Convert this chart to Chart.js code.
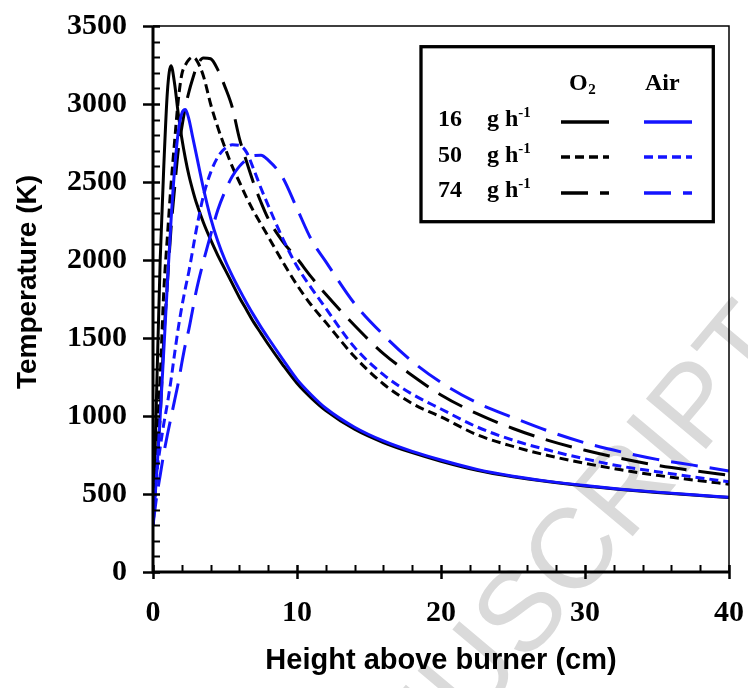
<!DOCTYPE html>
<html>
<head>
<meta charset="utf-8">
<script src="https://cdn.jsdelivr.net/npm/chart.js@4.4.1/dist/chart.umd.min.js"></script>
<style>
  html, body { margin: 0; padding: 0; background: #fff; }
  #wrap { width: 748px; height: 688px; }
</style>
</head>
<body>
<div id="wrap"><canvas id="c" width="748" height="688"></canvas></div>
<script>
// Height above burner (cm), shared by every profile
const heights = [0, 0.25, 0.5, 0.75, 1, 1.25, 1.5, 1.75, 2, 2.25, 2.5, 2.75, 3, 3.5, 4, 4.5, 5, 5.5, 6, 6.5, 7, 7.5, 8, 9, 10, 11, 12, 14, 16, 18, 20, 22.5, 25, 27.5, 30, 32.5, 35, 37.5, 40];

// Temperature (K) profiles, oxygen-fed flames
const o2_16 = [300, 1150, 2000, 2600, 3080, 3245, 3130, 2940, 2780, 2650, 2540, 2450, 2370, 2240, 2130, 2030, 1940, 1850, 1760, 1680, 1600, 1530, 1460, 1330, 1210, 1115, 1035, 915, 830, 765, 710, 652, 610, 578, 551, 529, 510, 493, 477];
const o2_50 = [300, 800, 1250, 1800, 2150, 2480, 2760, 3020, 3190, 3250, 3285, 3300, 3285, 3180, 3000, 2850, 2720, 2600, 2500, 2400, 2310, 2230, 2150, 1990, 1840, 1710, 1600, 1380, 1205, 1080, 994, 880, 805, 745, 697, 655, 620, 590, 563];
const o2_74 = [300, 650, 1000, 1500, 1850, 2200, 2460, 2700, 2850, 2980, 3080, 3160, 3230, 3295, 3290, 3220, 3110, 2980, 2780, 2630, 2490, 2370, 2265, 2120, 2010, 1890, 1780, 1580, 1400, 1260, 1135, 1015, 920, 842, 780, 728, 684, 650, 621];

// Temperature (K) profiles, air-fed flames
const air_16 = [300, 620, 1000, 1420, 1850, 2250, 2580, 2820, 2940, 2965, 2900, 2790, 2680, 2460, 2270, 2120, 2000, 1900, 1810, 1725, 1645, 1570, 1500, 1365, 1235, 1135, 1050, 928, 840, 773, 718, 658, 614, 581, 554, 531, 512, 495, 479];
const air_50 = [300, 620, 800, 950, 1080, 1230, 1400, 1560, 1700, 1820, 1930, 2060, 2190, 2410, 2560, 2660, 2715, 2738, 2735, 2690, 2580, 2460, 2350, 2140, 1960, 1820, 1690, 1440, 1265, 1140, 1045, 930, 845, 780, 725, 678, 643, 610, 578];
const air_74 = [300, 480, 620, 760, 880, 990, 1100, 1210, 1340, 1460, 1560, 1680, 1800, 1990, 2160, 2320, 2440, 2535, 2600, 2645, 2670, 2672, 2640, 2530, 2330, 2130, 1990, 1720, 1520, 1350, 1215, 1085, 990, 902, 828, 770, 722, 685, 648];

// Legend rows (fuel feed rate) and columns (oxidiser)
const feedRates = ['16', '50', '74'];
const oxidisers = ['O2', 'Air'];

const BLACK = '#000000';
const BLUE = '#1414ff';
const DASH = { solid: [], short: [9, 5], long: [27, 12] };
const styleByRate = { '16': DASH.solid, '50': DASH.short, '74': DASH.long };

const SERIF = '"Liberation Serif", "Times New Roman", serif';
const SANS = '"Liberation Sans", Arial, sans-serif';

function pts(temps) {
  return heights.map((h, i) => ({ x: h, y: temps[i] }));
}

function series(label, temps, color, rate, order) {
  return {
    label, data: pts(temps),
    borderColor: color, backgroundColor: color,
    borderWidth: 3, borderDash: styleByRate[rate],
    borderCapStyle: 'butt', borderJoinStyle: 'round',
    pointRadius: 0, pointHoverRadius: 0,
    cubicInterpolationMode: 'monotone', fill: false, order
  };
}

const datasets = [
  series('O2 16', o2_16, BLACK, '16', 2),
  series('Air 16', air_16, BLUE, '16', 1),
  series('O2 50', o2_50, BLACK, '50', 2),
  series('Air 50', air_50, BLUE, '50', 1),
  series('O2 74', o2_74, BLACK, '74', 2),
  series('Air 74', air_74, BLUE, '74', 1)
];

// Axes with crossing major ticks, inward minor ticks, thin top/right frame, boxed key
const framePlugin = {
  id: 'frame',
  beforeDraw(chart) {
    const { ctx, width, height } = chart;
    ctx.save();
    ctx.fillStyle = '#fff';
    ctx.fillRect(0, 0, width, height);
    // faint diagonal stamp behind the plot
    ctx.font = '400 114px ' + SANS;
    const lead = ctx.measureText('ACCEPTED MAN').width;
    ctx.translate(472, 728);
    ctx.rotate(-50 * Math.PI / 180);
    ctx.fillStyle = '#dadada';
    ctx.textBaseline = 'alphabetic';
    ctx.textAlign = 'left';
    ctx.fillText('ACCEPTED MANUSCRIPT', -lead, 0);
    ctx.restore();
  },
  afterDatasetsDraw(chart) {
    const { ctx, scales: { x, y } } = chart;
    const xL = x.getPixelForValue(x.min), xR = x.getPixelForValue(x.max);
    const yB = y.getPixelForValue(y.min), yT = y.getPixelForValue(y.max);
    ctx.save();
    ctx.strokeStyle = '#000';
    ctx.lineCap = 'butt';

    ctx.lineWidth = 1.5;
    ctx.beginPath();
    ctx.moveTo(xL, yT); ctx.lineTo(xR, yT); ctx.lineTo(xR, yB);
    ctx.stroke();

    // y ticks: majors every 500 K, minors every 100 K
    for (let v = y.min; v <= y.max; v += 100) {
      const p = Math.round(y.getPixelForValue(v)) + 0.5;
      ctx.beginPath();
      if (v % 500 === 0) { ctx.lineWidth = 2.5; ctx.moveTo(xL - 10, p); ctx.lineTo(xL + 7, p); }
      else { ctx.lineWidth = 2; ctx.moveTo(xL, p); ctx.lineTo(xL + 7, p); }
      ctx.stroke();
    }
    // x ticks: majors every 10 cm, minors every 2 cm
    for (let v = x.min; v <= x.max; v += 2) {
      const p = Math.round(x.getPixelForValue(v)) + 0.5;
      ctx.beginPath();
      if (v % 10 === 0) { ctx.lineWidth = 2.5; ctx.moveTo(p, yB - 7); ctx.lineTo(p, yB + 7); }
      else { ctx.lineWidth = 2; ctx.moveTo(p, yB); ctx.lineTo(p, yB - 7); }
      ctx.stroke();
    }

    ctx.lineWidth = 3;
    ctx.beginPath();
    ctx.moveTo(xL, yT); ctx.lineTo(xL, yB); ctx.lineTo(xR, yB);
    ctx.stroke();
    ctx.restore();
  },
  afterDraw(chart) {
    const { ctx } = chart;
    ctx.save();
    // y-axis title
    ctx.translate(28, 282);
    ctx.rotate(-Math.PI / 2);
    ctx.font = 'bold 28px ' + SANS;
    ctx.fillStyle = '#000';
    ctx.textAlign = 'center';
    ctx.textBaseline = 'middle';
    ctx.fillText('Temperature (K)', 0, 0);
    ctx.restore();

    // key box
    ctx.save();
    ctx.strokeStyle = '#000';
    ctx.lineWidth = 3.3;
    ctx.strokeRect(421, 46.7, 292.3, 175);
    ctx.fillStyle = '#000';
    ctx.textBaseline = 'alphabetic';
    ctx.textAlign = 'left';
    ctx.font = 'bold 24px ' + SERIF;
    ctx.fillText('O', 569, 90);
    const oW = ctx.measureText('O').width;
    ctx.font = 'bold 15px ' + SERIF;
    ctx.fillText('2', 569 + oW + 0.5, 94);
    ctx.font = 'bold 24px ' + SERIF;
    ctx.fillText(oxidisers[1], 645, 90);

    const rowBase = [126, 162, 197];
    const rowLine = [122, 157, 193];
    feedRates.forEach((rate, i) => {
      ctx.font = 'bold 24px ' + SERIF;
      ctx.fillText(rate, 438, rowBase[i]);
      ctx.fillText('g h', 487, rowBase[i]);
      const w = ctx.measureText('g h').width;
      ctx.font = 'bold 15px ' + SERIF;
      ctx.fillText('-1', 487 + w, rowBase[i] - 9);
      ctx.lineWidth = 3.3;
      ctx.setLineDash(styleByRate[rate]);
      ctx.strokeStyle = BLACK;
      ctx.beginPath(); ctx.moveTo(561, rowLine[i]); ctx.lineTo(609, rowLine[i]); ctx.stroke();
      ctx.strokeStyle = BLUE;
      ctx.beginPath(); ctx.moveTo(644, rowLine[i]); ctx.lineTo(692, rowLine[i]); ctx.stroke();
      ctx.setLineDash([]);
    });
    ctx.restore();
  }
};

const plainNumber = v => String(v);

new Chart(document.getElementById('c'), {
  type: 'line',
  data: { datasets },
  options: {
    responsive: false,
    animation: false,
    devicePixelRatio: 1,
    layout: { padding: { left: 0, right: 19, top: 26, bottom: 0 } },
    plugins: { legend: { display: false }, tooltip: { enabled: false } },
    scales: {
      x: {
        type: 'linear', min: 0, max: 40,
        ticks: { stepSize: 10, color: '#000', padding: 23, maxRotation: 0, callback: plainNumber,
                 font: { family: SERIF, weight: 'bold', size: 30 } },
        grid: { display: false, drawTicks: false },
        border: { display: false },
        title: { display: true, text: 'Height above burner (cm)', color: '#000',
                 font: { family: SANS, weight: 'bold', size: 29 },
                 padding: { top: 0, bottom: 10 } },
        afterFit(s) { s.height = 116; s.paddingLeft = 0; s.paddingRight = 0; }
      },
      y: {
        type: 'linear', min: 0, max: 3500,
        ticks: { stepSize: 500, color: '#000', padding: 26, callback: plainNumber,
                 font: { family: SERIF, weight: 'bold', size: 30 } },
        grid: { display: false, drawTicks: false },
        border: { display: false },
        afterFit(s) { s.width = 153; s.paddingTop = 0; s.paddingBottom = 0; }
      }
    }
  },
  plugins: [framePlugin]
});
</script>
</body>
</html>
